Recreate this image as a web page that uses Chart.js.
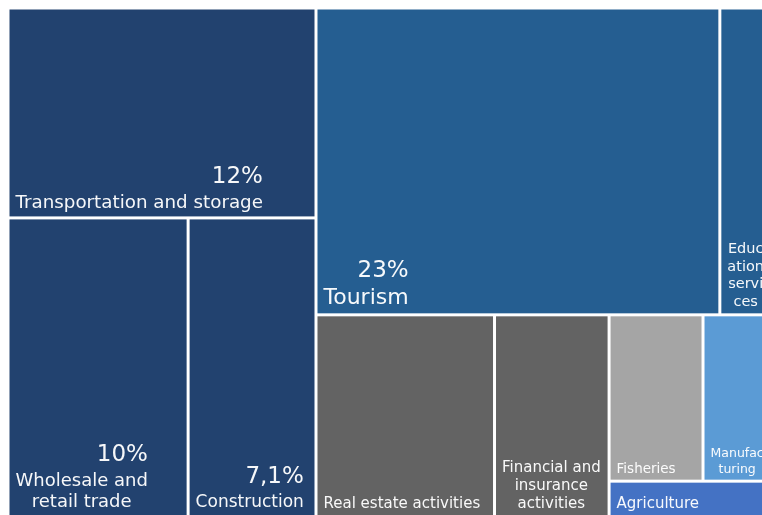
<!DOCTYPE html>
<html>
<head>
<meta charset="utf-8">
<title>Sector shares</title>
<script src="https://cdn.jsdelivr.net/npm/chart.js@4/dist/chart.umd.min.js"></script>
<style>
  html, body { margin: 0; padding: 0; background: #ffffff; overflow: hidden; }
  #wrap { width: 762px; height: 515px; }
</style>
</head>
<body>
<div id="wrap"><canvas id="treemap" width="762" height="515"></canvas></div>
<script>
// Sector names ('\n' marks where the label wraps inside its tile)
const categories = [
    'Transportation and storage',
    'Wholesale and\nretail trade',
    'Construction',
    'Tourism',
    'Educ\nation\nservi\nces',
    'Real estate activities',
    'Financial and\ninsurance\nactivities',
    'Fisheries',
    'Manufac\nturing',
    'Agriculture'
];

// Share of each sector, in percent
const shares = [12, 10, 7.1, 23, 3.1, 6.7, 4.3, 2.9, 2.2, 1.1];

// Which tiles print their percentage above the name
const showShare = [true, true, true, true, false, false, false, false, false, false];

// Tile colours and label sizes
const tileColors = ['#22426f', '#22426f', '#22426f', '#255e91', '#255e91',
                    '#636363', '#636363', '#a5a5a5', '#5b9bd5', '#4472c4'];
const labelSizes = [18.3, 18, 17, 22, 14.5, 15, 15, 13.5, 12.5, 15];
const valueSize = 23;

// How the tiles nest: 'h' lays children side by side, 'v' stacks them
const nesting = ['h', [
    ['v', [0, ['h', [1, 2]]]],
    ['v', [
        ['h', [3, 4]],
        ['h', [5, 6, ['v', [['h', [7, 8]], 9]]]]
    ]]
]];

// Visible part of the value space (height is 1, width is in share points)
const xVisible = 71.24;
const yVisible = 0.996;

const FONT = '"DejaVu Sans", sans-serif';
const GAP = 3;

function nodeSum(node) {
    if (typeof node === 'number') return shares[node];
    return node[1].reduce((s, n) => s + nodeSum(n), 0);
}

// slice-and-dice each node by its children's totals
function layout(node, x0, y0, x1, y1, out) {
    if (typeof node === 'number') {
        out.push({ i: node, x0, y0, x1, y1, x: (x0 + x1) / 2, y: (y0 + y1) / 2 });
        return out;
    }
    const [dir, kids] = node;
    const total = nodeSum(node);
    let pos = dir === 'h' ? x0 : y0;
    kids.forEach(k => {
        const f = nodeSum(k) / total;
        if (dir === 'h') {
            const w = (x1 - x0) * f;
            layout(k, pos, y0, pos + w, y1, out);
            pos += w;
        } else {
            const h = (y1 - y0) * f;
            layout(k, x0, pos, x1, pos + h, out);
            pos += h;
        }
    });
    return out;
}

const cells = layout(nesting, 0, 0, nodeSum(nesting), 1, []);

function fmtShare(v) {
    return String(v).replace('.', ',') + '%';
}

const treemapPlugin = {
    id: 'treemapCells',
    afterDatasetsDraw(chart) {
        const { ctx, chartArea, scales: { x, y } } = chart;
        ctx.save();
        ctx.beginPath();
        ctx.rect(chartArea.left, chartArea.top, chartArea.width, chartArea.height + 2);
        ctx.clip();

        chart.data.datasets[0].data.forEach(c => {
            const left = x.getPixelForValue(c.x0) + GAP / 2;
            const right = x.getPixelForValue(c.x1) - GAP / 2;
            const top = y.getPixelForValue(c.y0) + GAP / 2;
            const bottom = y.getPixelForValue(c.y1) - GAP / 2;
            ctx.fillStyle = tileColors[c.i];
            ctx.fillRect(left, top, right - left, bottom - top);

            // label block sits in the bottom-left corner, lines centred in it
            const size = labelSizes[c.i];
            const lines = categories[c.i].split('\n');
            ctx.font = size + 'px ' + FONT;
            const blockW = Math.max(...lines.map(l => ctx.measureText(l).width));
            const blockL = left + 6;
            const lineH = size + 3;
            let base = bottom - (0.3 * size + 3) - (lines.length - 1) * lineH;
            const firstBase = base;
            ctx.fillStyle = 'rgba(255,255,255,0.96)';
            ctx.textBaseline = 'alphabetic';
            ctx.textAlign = 'center';
            lines.forEach(l => {
                ctx.fillText(l, blockL + blockW / 2, base);
                base += lineH;
            });

            if (showShare[c.i]) {
                ctx.font = valueSize + 'px ' + FONT;
                ctx.textAlign = 'right';
                ctx.fillText(fmtShare(shares[c.i]), blockL + blockW, firstBase - (0.6 * size + 14));
            }
        });
        ctx.restore();
    }
};

new Chart(document.getElementById('treemap').getContext('2d'), {
    type: 'scatter',
    data: {
        datasets: [{
            label: 'Share of sector',
            data: cells,
            pointRadius: 0,
            pointHoverRadius: 0
        }]
    },
    options: {
        responsive: false,
        animation: false,
        layout: { padding: { left: 8, top: 8, right: 0, bottom: 0 } },
        scales: {
            x: { type: 'linear', min: 0, max: xVisible, display: false },
            y: { type: 'linear', min: 0, max: yVisible, reverse: true, display: false }
        },
        plugins: {
            legend: { display: false },
            tooltip: { enabled: false }
        }
    },
    plugins: [treemapPlugin]
});
</script>
</body>
</html>
